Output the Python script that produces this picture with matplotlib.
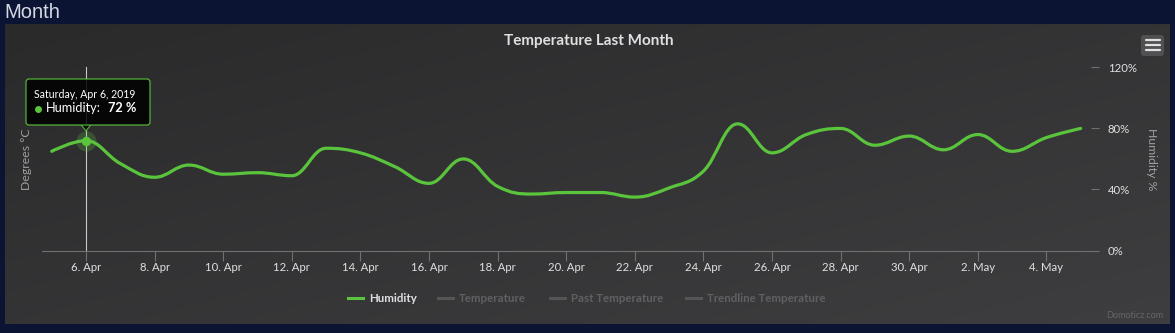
import numpy as np
import matplotlib
matplotlib.use('Agg')
import matplotlib.pyplot as plt
import matplotlib.dates as mdates
from matplotlib.path import Path
from matplotlib.patches import PathPatch, FancyBboxPatch, Polygon
from matplotlib.colors import LinearSegmentedColormap

# data (daily humidity, %)
dates = np.arange(np.datetime64('2019-04-05'), np.datetime64('2019-05-06'))
humidity = [65, 72, 57, 48, 56, 50, 51, 49, 67, 64, 55, 44, 60, 42, 37, 38,
            38, 35, 41, 52, 83, 64, 76, 80, 69, 75, 66, 76, 65, 74, 80]
tickDates = np.arange(np.datetime64('2019-04-06'), np.datetime64('2019-05-05'), 2)
tickLabels = ['6. Apr', '8. Apr', '10. Apr', '12. Apr', '14. Apr', '16. Apr', '18. Apr',
              '20. Apr', '22. Apr', '24. Apr', '26. Apr', '28. Apr', '30. Apr',
              '2. May', '4. May']
yTicks = [0, 40, 80, 120]
yTickLabels = ['0%', '40%', '80%', '120%']
legendNames = ['Humidity', 'Temperature', 'Past Temperature', 'Trendline Temperature']
hoverIndex = 1
hoverDate = 'Saturday, Apr 6, 2019'

W, H = 1175, 333
GREEN = '#5ac43c'
NAVY = '#0b1433'
AXISGREY = '#707073'
LABEL = '#e0e0e3'
HIDDEN = '#606063'

plt.rcParams['font.family'] = ['Lato', 'DejaVu Sans']


def Rect(x0, y0, x1, y1):
    return [x0 / W, 1 - y1 / H, (x1 - x0) / W, (y1 - y0) / H]


def SplinePath(xs, ys, smoothing=1.5):
    # highcharts style spline through the points
    n = len(xs)
    left = [(xs[i], ys[i]) for i in range(n)]
    right = [(xs[i], ys[i]) for i in range(n)]
    denom = smoothing + 1
    for i in range(1, n - 1):
        x, y = xs[i], ys[i]
        lastX, lastY = xs[i - 1], ys[i - 1]
        nextX, nextY = xs[i + 1], ys[i + 1]
        lcx = (smoothing * x + lastX) / denom
        lcy = (smoothing * y + lastY) / denom
        rcx = (smoothing * x + nextX) / denom
        rcy = (smoothing * y + nextY) / denom
        corr = (rcy - lcy) * (rcx - x) / (rcx - lcx) + y - rcy
        lcy += corr
        rcy += corr
        if lcy > lastY and lcy > y:
            lcy = max(lastY, y)
            rcy = 2 * y - lcy
        elif lcy < lastY and lcy < y:
            lcy = min(lastY, y)
            rcy = 2 * y - lcy
        if rcy > nextY and rcy > y:
            rcy = max(nextY, y)
            lcy = 2 * y - rcy
        elif rcy < nextY and rcy < y:
            rcy = min(nextY, y)
            lcy = 2 * y - rcy
        left[i] = (lcx, lcy)
        right[i] = (rcx, rcy)
    verts = [(xs[0], ys[0])]
    codes = [Path.MOVETO]
    for i in range(1, n):
        verts += [right[i - 1], left[i], (xs[i], ys[i])]
        codes += [Path.CURVE4] * 3
    return Path(verts, codes)


fig = plt.figure(figsize=(W / 100, H / 100), dpi=100)
fig.patch.set_facecolor(NAVY)

# panel background with diagonal gradient
bg = fig.add_axes(Rect(5, 24, 1170, 324), zorder=0)
gx, gy = np.meshgrid(np.linspace(0, 1, 300), np.linspace(0, 1, 100))
cmap = LinearSegmentedColormap.from_list('panel', ['#2a2a2b', '#3e3e40'])
bg.imshow((gx + gy) / 2, cmap=cmap, aspect='auto', extent=(0, 1, 1, 0), vmin=0, vmax=1)
bg.set_axis_off()

# main plot area
ax = fig.add_axes(Rect(42, 67.4, 1091, 250.5), zorder=1)
ax.patch.set_alpha(0)
xNum = mdates.date2num(dates)
dayPx = 34.3
x6 = mdates.date2num(np.datetime64('2019-04-06'))
ax.set_xlim(x6 - (86 - 42) / dayPx, x6 + (1091 - 86) / dayPx)
ax.set_ylim(0, 120)

ax.axvline(xNum[hoverIndex], color='#c8c8c8', lw=0.8, zorder=1)
ax.add_patch(PathPatch(SplinePath(list(xNum), humidity), fill=False, edgecolor=GREEN,
                       lw=2.3, capstyle='round', joinstyle='round', zorder=2))
ax.plot(xNum[hoverIndex], humidity[hoverIndex], 'o', ms=14.5, color=GREEN, alpha=0.25, mec='none', zorder=3)
ax.plot(xNum[hoverIndex], humidity[hoverIndex], 'o', ms=6.8, color=GREEN, mec='none', zorder=4)

for side in ['top', 'left', 'right']:
    ax.spines[side].set_visible(False)
ax.spines['bottom'].set_color(AXISGREY)
ax.spines['bottom'].set_linewidth(0.8)

ax.set_xticks(mdates.date2num(tickDates))
ax.set_xticklabels(tickLabels)
ax.tick_params(axis='x', length=7, width=0.8, color=AXISGREY, labelcolor=LABEL,
               labelsize=8.2, pad=1)
ax.yaxis.tick_right()
ax.set_yticks(yTicks)
ax.set_yticklabels(yTickLabels)
ax.tick_params(axis='y', length=6, width=0.8, color=AXISGREY, labelcolor=LABEL,
               labelsize=8.2, pad=6)
for lab in ax.get_yticklabels():
    lab.set_horizontalalignment('left')

# overlay for titles, tooltip, legend
ov = fig.add_axes([0, 0, 1, 1], zorder=3)
ov.set_xlim(0, W)
ov.set_ylim(H, 0)
ov.set_axis_off()
ov.patch.set_alpha(0)

ov.text(4, 13, 'Month', fontsize=14.5, color='#d6d9e3', family='Liberation Sans', va='center', ha='left')
ov.text(589, 41, 'Temperature Last Month', fontsize=11, fontweight='bold', color=LABEL, ha='center', va='center')
ov.text(26, 159, 'Degrees °C', fontsize=8.8, color='#a0a0a3', rotation=90, ha='center', va='center')
ov.text(1152, 159, 'Humidity %', fontsize=8.8, color='#a0a0a3', rotation=270, ha='center', va='center')
ov.text(1163, 316, 'Domoticz.com', fontsize=6.5, color='#666666', ha='right', va='center')

# menu button
ov.add_patch(FancyBboxPatch((1141, 35), 23, 21, boxstyle='round,pad=0,rounding_size=3',
                            facecolor='#505053', edgecolor='none'))
for yy in [40, 45, 50]:
    ov.plot([1145.5, 1159.5], [yy, yy], color='#e0e0e0', lw=1.6, solid_capstyle='round')

# tooltip
ov.add_patch(Polygon([(81, 124.5), (86, 131), (91, 124.5)], closed=False, facecolor='#000000',
                     edgecolor=GREEN, lw=0.8, alpha=0.9))
ov.add_patch(FancyBboxPatch((26, 79), 124, 46, boxstyle='round,pad=0,rounding_size=3',
                            facecolor=(0, 0, 0, 0.85), edgecolor=GREEN, lw=0.8))
ov.text(34, 94, hoverDate, fontsize=7.6, color='#ffffff', ha='left', va='center')
ov.plot(38, 108.5, 'o', ms=5, color=GREEN, mec='none')
ov.text(46, 108.5, 'Humidity:', fontsize=9.2, color='#ffffff', ha='left', va='center')
ov.text(108, 108.5, '{} %'.format(humidity[hoverIndex]), fontsize=9.2, fontweight='bold',
        color='#ffffff', ha='left', va='center')

# legend
legendX = [348, 438, 550, 686]
for i, name in enumerate(legendNames):
    col = GREEN if i == 0 else '#555557'
    tcol = LABEL if i == 0 else HIDDEN
    ov.plot([legendX[i], legendX[i] + 15], [298, 298], color=col, lw=2.2)
    ov.text(legendX[i] + 21, 298, name, fontsize=8.3, fontweight='bold', color=tcol,
            ha='left', va='center')

fig.savefig('out.png', dpi=100, facecolor=fig.get_facecolor())
